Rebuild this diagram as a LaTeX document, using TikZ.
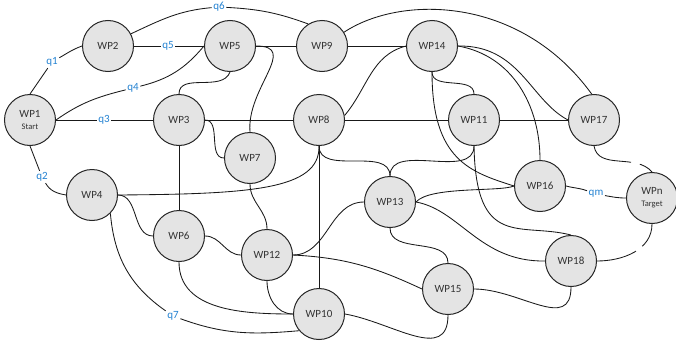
\documentclass[tikz,border=0pt]{standalone}
\usepackage{fontspec}
\setmainfont{Carlito}
\definecolor{qblue}{RGB}{35,130,210}
\definecolor{nodefill}{RGB}{228,228,228}
\begin{document}
\begin{tikzpicture}[x=1pt,y=1pt,
  wp/.style={circle, draw=black!85, line width=1pt, fill=nodefill, minimum size=51pt, inner sep=0pt,
    text=black!80, font=\fontsize{11}{12}\selectfont, align=center},
  ql/.style={text=qblue, font=\fontsize{11}{12}\selectfont, inner sep=1.5pt, fill=white},
  conn/.style={line width=0.85pt, draw=black!90}]
\useasboundingbox (0,0) rectangle (676,341);
% nodes
\node[wp] (WP1) at (30,221) {WP1\\[0pt]{\fontsize{8.5}{9}\selectfont Start}};
\node[wp] (WP2) at (108,295) {WP2};
\node[wp] (WP5) at (230,295) {WP5};
\node[wp] (WP9) at (322,295) {WP9};
\node[wp] (WP14) at (432,295) {WP14};
\node[wp] (WP3) at (179,221) {WP3};
\node[wp] (WP8) at (319,221) {WP8};
\node[wp] (WP11) at (474,221) {WP11};
\node[wp] (WP17) at (594,221) {WP17};
\node[wp] (WP7) at (250,183) {WP7};
\node[wp] (WP4) at (92,146) {WP4};
\node[wp] (WP6) at (179,105) {WP6};
\node[wp] (WP12) at (267,86) {WP12};
\node[wp] (WP10) at (319,27) {WP10};
\node[wp] (WP13) at (390,139) {WP13};
\node[wp] (WP16) at (540,155) {WP16};
\node[wp] (WPn) at (652,143) {WPn\\[0pt]{\fontsize{8.5}{9}\selectfont Target}};
\node[wp] (WP18) at (571,80) {WP18};
\node[wp] (WP15) at (448,52) {WP15};
% labels
\node[ql] (q1) at (52,279) {q1};
\node[ql] (q2) at (42,164) {q2};
\node[ql] (q3) at (104,221) {q3};
\node[ql] (q4) at (133,253) {q4};
\node[ql] (q5) at (168,295) {q5};
\node[ql] (q6) at (219,334) {q6};
\node[ql] (q7) at (173,25) {q7};
\node[ql] (qm) at (596,147) {qm};
% connectors
\draw[conn] (WP1.north) -- (q1);
\draw[conn] (q1) to[out=30,in=200] (WP2.west);
\draw[conn] (WP1.south) -- (q2);
\draw[conn] (q2) to[out=-60,in=170] (WP4.west);
\draw[conn] (WP1) -- (q3) -- (WP3);
\draw[conn] (WP1.east) to[out=35,in=194] (q4);
\draw[conn] (q4) to[out=14,in=230] (WP5.west);
\draw[conn] (WP2) -- (q5) -- (WP5);
\draw[conn] (WP2.28) to[out=25,in=185] (q6);
\draw[conn] (q6) to[out=-3,in=160] (WP9.122);
\draw[conn] (WP5.south) to[out=-110,in=90] (WP3.north);
\draw[conn] (WP5) -- (WP9);
\draw[conn] (WP5.east) to[out=0,in=95,looseness=1.3] (WP7.north);
\draw[conn] (WP9) -- (WP14);
\draw[conn] (WP9.32) .. controls (400,346) and (520,346) .. (WP17.95);
\draw[conn] (WP14.west) to[out=195,in=50] (WP8.10);
\draw[conn] (WP3) -- (WP8);
\draw[conn] (WP8) -- (WP11);
\draw[conn] (WP11) -- (WP17);
\draw[conn] (WP3.east) to[out=0,in=180] (WP7.west);
\draw[conn] (WP3) -- (WP6);
\draw[conn] (WP7.south) to[out=-90,in=90] (WP12.north);
\draw[conn] (WP4.east) .. controls (250,147) and (320,151) .. (WP8.south);
\draw[conn] (WP8) -- (WP10);
\draw[conn] (WP8.south) to[out=-90,in=90] (WP13.north);
\draw[conn] (WP11.south) to[out=-90,in=90] (WP13.north);
\draw[conn] (WP11.south) .. controls (476,91) and (520,119) .. (WP18.north);
\draw[conn] (WP14.south) to[out=-90,in=90] (WP11.north);
\draw[conn] (WP14.south) .. controls (432,181) and (470,169) .. (WP16.west);
\draw[conn] (WP14.east) to[out=-10,in=90] (WP16.north);
\draw[conn] (WP14.east) .. controls (520,296) and (530,241) .. (WP17.west);
\draw[conn, dash pattern=on 44pt off 9pt on 40pt] (WP17.south) to[out=-80,in=130] (WPn.north);
\draw[conn, dash pattern=on 25pt off 8pt on 80pt] (WPn.south) to[out=-90,in=0] (WP18.east);
\draw[conn] (WP16.east) to[out=-15,in=160] (qm);
\draw[conn] (qm) to[out=-10,in=180] (WPn.west);
\draw[conn] (WP13.east) .. controls (430,155) and (500,149) .. (WP16.west);
\draw[conn] (WP13.west) to[out=180,in=0] (WP12.east);
\draw[conn] (WP13.east) .. controls (460,131) and (480,79) .. (WP18.west);
\draw[conn] (WP13.south) to[out=-90,in=90] (WP15.north);
\draw[conn] (WP12.east) to[out=-3,in=155] (WP15.west);
\draw[conn] (WP15.east) to[out=0,in=-90,looseness=1.2] (WP18.south);
\draw[conn] (WP10.east) to[out=-10,in=-90,looseness=1.2] (WP15.south);
\draw[conn] (WP12.south) to[out=-90,in=180] (WP10.west);
\draw[conn] (WP6.south) to[out=-90,in=180] (WP10.west);
\draw[conn] (WP4.-45) to[out=-85,in=145] (q7);
\draw[conn] (q7) to[out=-20,in=185] (WP10.220);
\draw[conn] (WP4.east) to[out=0,in=180] (WP6.west);
\draw[conn] (WP6.east) to[out=0,in=180] (WP12.west);
\end{tikzpicture}
\end{document}
